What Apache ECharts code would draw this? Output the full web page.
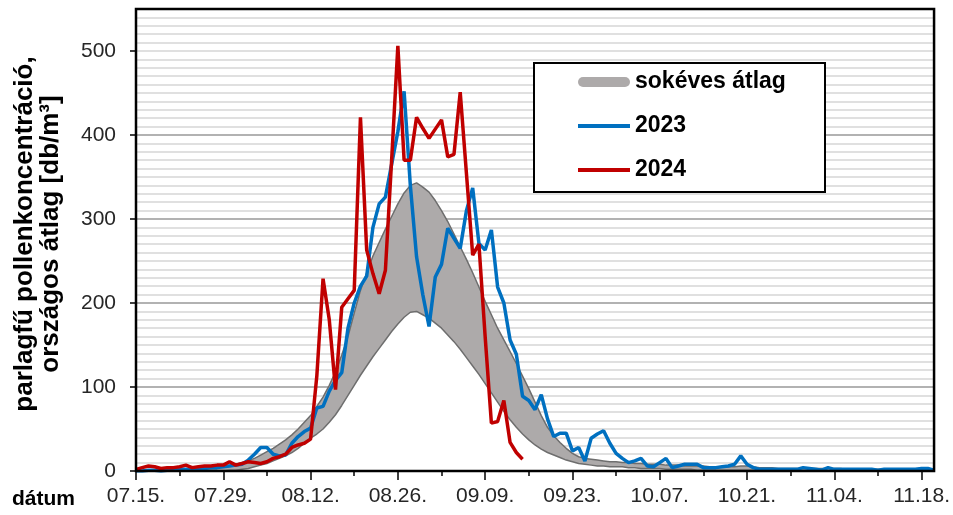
<!DOCTYPE html>
<html><head><meta charset="utf-8">
<script src="https://cdn.jsdelivr.net/npm/echarts@6/dist/echarts.min.js"></script>
<style>html,body{margin:0;padding:0;background:#fff}#c{width:953px;height:515px}</style>
</head><body><div id="c"></div>
<script>
const dates = [
'07.15.','07.16.','07.17.','07.18.','07.19.','07.20.','07.21.','07.22.','07.23.','07.24.','07.25.','07.26.','07.27.','07.28.','07.29.','07.30.','07.31.',
'08.01.','08.02.','08.03.','08.04.','08.05.','08.06.','08.07.','08.08.','08.09.','08.10.','08.11.','08.12.','08.13.','08.14.','08.15.','08.16.','08.17.','08.18.','08.19.','08.20.','08.21.','08.22.','08.23.','08.24.','08.25.','08.26.','08.27.','08.28.','08.29.','08.30.','08.31.',
'09.01.','09.02.','09.03.','09.04.','09.05.','09.06.','09.07.','09.08.','09.09.','09.10.','09.11.','09.12.','09.13.','09.14.','09.15.','09.16.','09.17.','09.18.','09.19.','09.20.','09.21.','09.22.','09.23.','09.24.','09.25.','09.26.','09.27.','09.28.','09.29.','09.30.',
'10.01.','10.02.','10.03.','10.04.','10.05.','10.06.','10.07.','10.08.','10.09.','10.10.','10.11.','10.12.','10.13.','10.14.','10.15.','10.16.','10.17.','10.18.','10.19.','10.20.','10.21.','10.22.','10.23.','10.24.','10.25.','10.26.','10.27.','10.28.','10.29.','10.30.','10.31.',
'11.01.','11.02.','11.03.','11.04.','11.05.','11.06.','11.07.','11.08.','11.09.','11.10.','11.11.','11.12.','11.13.','11.14.','11.15.','11.16.','11.17.','11.18.','11.19.','11.20.'
];
// long-term average band: upper and lower edges
const bandUpper = [
0,0,0,0,0,1,1,1,1,2,
2,2,3,4,5,7,8,10,12,15,
19,23,27,32,37,43,50,58,66,77,
88,102,118,138,160,188,215,236,256,272,
288,303,318,331,340,343,338,332,322,310,
297,282,267,252,236,219,202,186,170,156,
142,128,113,98,82,66,52,42,34,27,
21,17,15,14,13,12,11,11,10,10,
9,9,8,8,8,7,7,7,6,6,
6,6,5,5,5,5,5,6,6,5,
4,4,4,3,3,3,3,3,3,3,
3,3,3,3,2,2,2,2,2,2,
2,2,2,2,2,2,2,2,2
];
const bandLower = [
0,0,0,0,0,0,0,0,0,0,
0,0,0,0,0,1,1,2,3,5,
7,9,12,15,18,22,27,33,39,44,
50,58,67,78,90,102,114,125,136,146,
156,166,175,183,189,190,186,182,176,170,
162,154,145,135,125,115,104,93,82,71,
61,52,44,37,31,26,22,19,16,13,
11,9,8,7,6,6,5,5,5,4,
4,3,3,3,3,2,2,2,2,2,
1,1,1,1,1,1,1,1,1,1,
1,1,1,1,1,1,0,0,0,0,
0,0,0,0,0,0,0,0,0,0,
0,0,0,0,0,0,0,0,0
];
const y2023 = [
0,0,1,1,0,1,1,2,2,2,
3,3,4,4,5,6,7,8,13,20,
28,28,20,18,19,33,41,47,51,75,
77,95,108,117,170,200,220,232,290,318,
326,365,404,452,340,255,210,172,231,246,
289,277,265,310,337,271,263,287,219,200,
156,139,89,84,73,91,62,41,45,45,
24,28,12,39,44,48,33,21,15,10,
12,15,6,5,10,15,4,6,8,8,
8,4,4,4,5,6,8,18,8,4,
2,2,2,2,2,2,2,4,3,2,
1,4,2,2,2,2,2,2,2,1,
2,2,2,2,2,2,3,3,1
];
const y2024 = [
2,4,6,5,3,4,4,5,7,4,
5,6,6,7,7,11,7,9,11,10,
9,11,15,17,20,28,31,33,38,113,
229,180,97,195,205,215,421,263,235,211,
239,370,506,370,370,421,408,396,407,418,
374,377,451,354,257,270,160,57,59,84,
34,22,14
];
const yLabelValues = [0,100,200,300,400,500];
const bandWidth = bandUpper.map((u,i)=>u-bandLower[i]);

const FONT = 'Liberation Sans';
const chart = echarts.init(document.getElementById('c'), null, {renderer:'canvas'});
chart.setOption({
  animation:false,
  backgroundColor:'#fff',
  textStyle:{fontFamily:FONT},
  grid:{left:136,right:18,top:9,bottom:44,show:true,z:4,borderColor:'#000',borderWidth:2.5,backgroundColor:'transparent'},
  xAxis:[{
    type:'category',data:dates,boundaryGap:false,z:3,position:'bottom',
    axisLine:{lineStyle:{color:'#000',width:2}},
    axisTick:{interval:6,length:5,lineStyle:{color:'#000',width:1.5}},
    axisLabel:{interval:13,margin:15,fontSize:21,color:'#262626',fontFamily:FONT},
    splitLine:{show:false}
  },{
    type:'category',data:dates,boundaryGap:false,z:3,position:'bottom',
    axisLine:{show:false},
    axisTick:{interval:13,length:9,lineStyle:{color:'#000',width:1.5}},
    axisLabel:{show:false},splitLine:{show:false}
  }],
  yAxis:[{
    type:'value',min:0,max:550,interval:100,z:1,position:'left',
    name:'parlagfű pollenkoncentráció,\nországos átlag [db/m³]',
    nameLocation:'middle',nameGap:72,
    nameTextStyle:{fontSize:26,fontWeight:'bold',color:'#000',lineHeight:26,fontFamily:FONT,padding:[0,0,0,12]},
    axisLine:{show:true,lineStyle:{color:'#000',width:2}},
    axisTick:{show:true,length:6,customValues:yLabelValues,lineStyle:{color:'#000',width:1.5}},
    axisLabel:{customValues:yLabelValues,margin:20,fontSize:21,color:'#262626',fontFamily:FONT},
    splitLine:{show:true,showMaxLine:false,lineStyle:{width:1.5,color:'#a3a3a3'}}
  },{
    type:'value',min:0,max:550,interval:10,z:0,position:'left',
    axisLine:{show:false},axisTick:{show:false},axisLabel:{show:false},
    splitLine:{show:true,showMaxLine:false,lineStyle:{width:1.5,color:'#d6d6d6'}}
  }],
  legend:{
    orient:'vertical',left:578,top:69,padding:0,itemGap:18,itemWidth:52,itemHeight:10,itemTextGap:8,
    selectedMode:false,z:5,
    textStyle:{fontSize:23,fontWeight:'bold',color:'#000',lineHeight:26,fontFamily:FONT},
    data:[
      {name:'sokéves átlag',icon:'path://M5,0H47A5,5,0,0,1,47,10H5A5,5,0,0,1,5,0Z',itemStyle:{color:'#ADAAAA',borderWidth:0}},
      {name:'2023',icon:'path://M0,0H50V4H0Z',itemStyle:{color:'#0070C0',borderWidth:0}},
      {name:'2024',icon:'path://M0,0H50V4H0Z',itemStyle:{color:'#C00000',borderWidth:0}}
    ]
  },
  graphic:[
    {type:'rect',z:4,shape:{x:534,y:63,width:291,height:129},style:{fill:'#fff',stroke:'#000',lineWidth:2}},
    {type:'text',z:4,left:12,top:489,style:{text:'dátum',font:'bold 21px "Liberation Sans"',fill:'#000'}}
  ],
  series:[
    {name:'alsó',type:'line',stack:'band',data:bandLower,symbol:'none',smooth:false,
     lineStyle:{color:'#6e6e6e',width:1.5},areaStyle:{color:'#fff',opacity:1},itemStyle:{color:'#fff'},z:2},
    {name:'sokéves átlag',type:'line',stack:'band',data:bandWidth,symbol:'none',smooth:false,
     lineStyle:{color:'#6e6e6e',width:1.5},areaStyle:{color:'#ADAAAA',opacity:1},itemStyle:{color:'#ADAAAA'},z:2},
    {name:'2023',type:'line',data:y2023,symbol:'none',lineStyle:{color:'#0070C0',width:3.5},itemStyle:{color:'#0070C0'},z:2},
    {name:'2024',type:'line',data:y2024,symbol:'none',lineStyle:{color:'#C00000',width:3.5},itemStyle:{color:'#C00000'},z:2}
  ]
});
</script></body></html>
